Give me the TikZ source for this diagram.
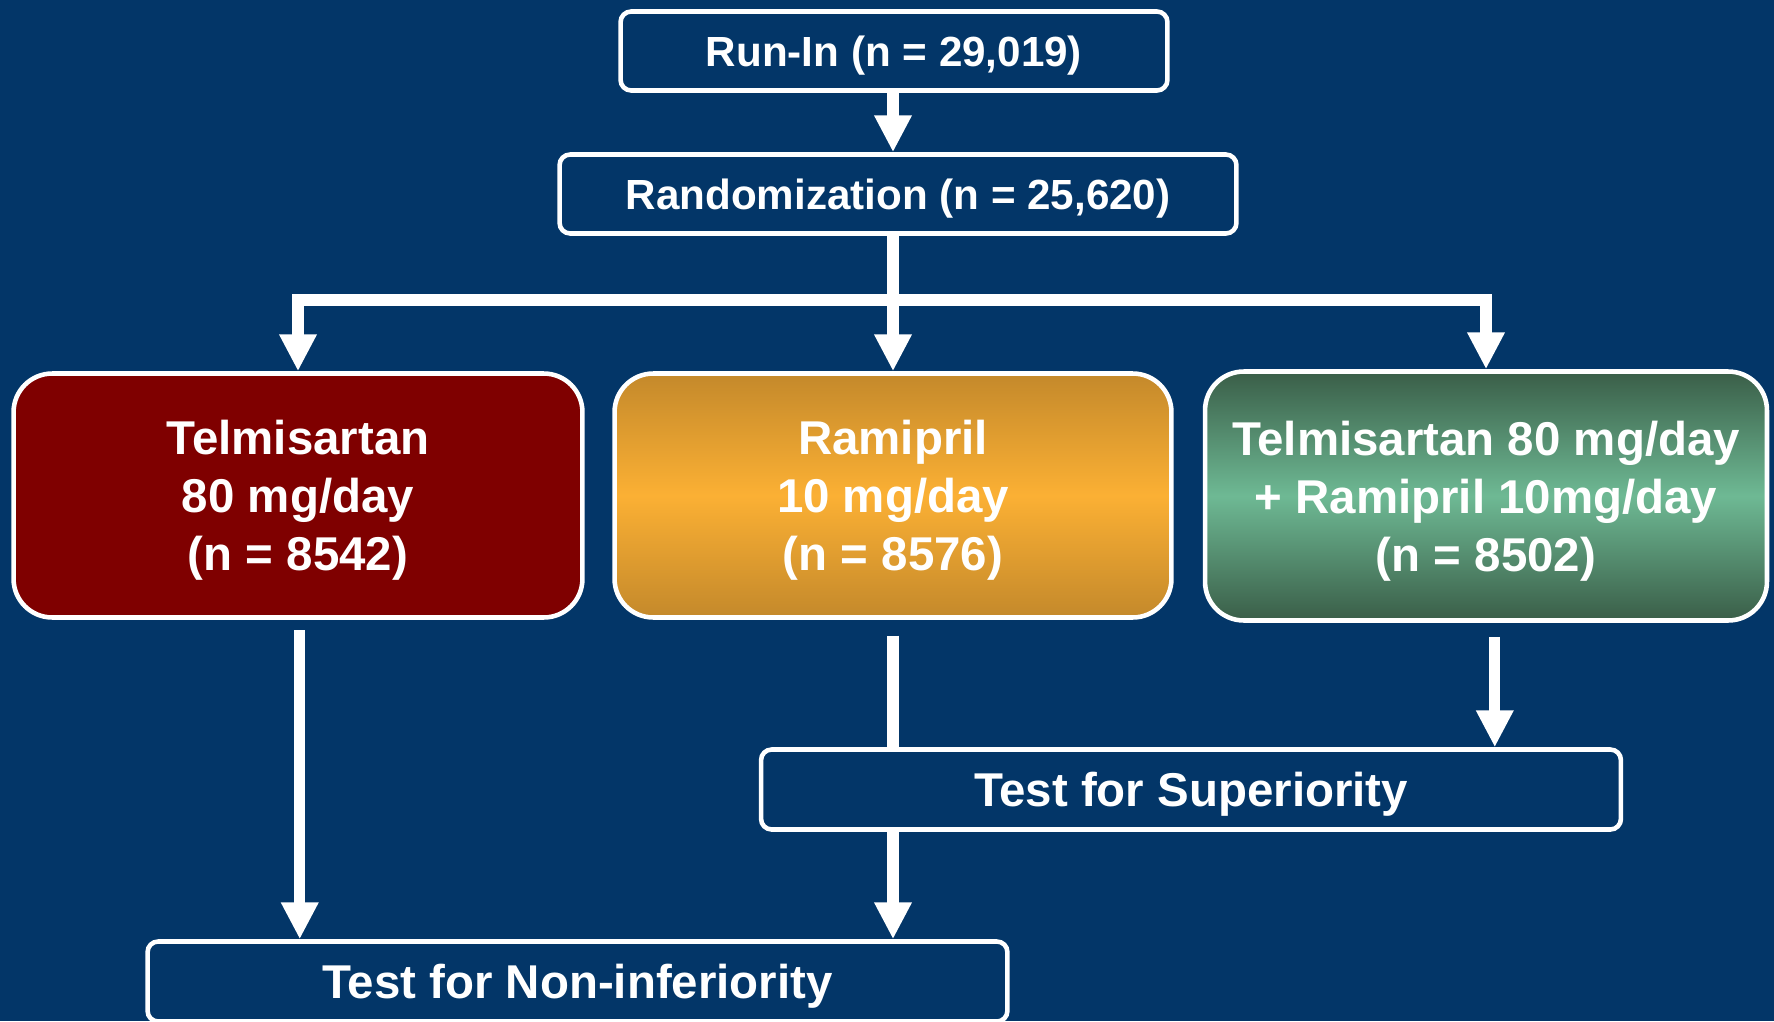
\documentclass[tikz,border=0pt]{standalone}
\usepackage{fontspec}
\setmainfont{Liberation Sans}
\usetikzlibrary{arrows.meta}

\definecolor{bgblue}{RGB}{3,54,104}
\definecolor{telmired}{RGB}{127,0,0}
\definecolor{ramidark}{RGB}{196,137,43}
\definecolor{ramilight}{RGB}{251,176,52}
\definecolor{combodark}{RGB}{58,94,72}
\definecolor{combolight}{RGB}{110,185,148}

\begin{document}
\begin{tikzpicture}[x=0.02cm, y=-0.02cm,
    box/.style={draw=white, line width=2.6pt, rounded corners=6pt, inner sep=0pt, text depth=0pt,
      text=white, font=\fontsize{24}{30}\selectfont\bfseries, align=center},
    armbox/.style={box, rounded corners=22pt, minimum width=11.2cm, minimum height=4.88cm,
      font=\fontsize{27}{33}\selectfont\bfseries},
    testbox/.style={box, minimum width=17.2cm, minimum height=1.6cm,
      font=\fontsize{27}{33}\selectfont\bfseries},
    flow/.style={draw=white, line width=6.3pt, -{Triangle[width=20pt,length=21pt]}},
    plain/.style={draw=white, line width=6.3pt}]
    % Background
    \fill[bgblue] (0,0) rectangle (1774,1021);
    \useasboundingbox (0,0) rectangle (1774,1021);

    % Boxes
    \node[box, minimum width=10.94cm, minimum height=1.58cm] (runin) at (894,51) {Run-In (n = 29,019)};
    \node[box, minimum width=13.54cm, minimum height=1.58cm] (rand) at (898,194) {Randomization (n = 25,620)};
    \node[armbox, fill=telmired, minimum width=11.38cm] (telmi) at (298,495.5)
      {Telmisartan\\80 mg/day\\(n = 8542)};
    \node[armbox, top color=ramidark, bottom color=ramidark, middle color=ramilight,
      minimum width=11.14cm] (rami) at (893,495.5) {Ramipril\\10 mg/day\\(n = 8576)};
    \node[armbox, top color=combodark, bottom color=combodark, middle color=combolight,
      minimum width=11.24cm, minimum height=4.98cm] (combo) at (1486,496)
      {Telmisartan 80 mg/day\\+ Ramipril 10mg/day\\(n = 8502)};
    \node[testbox] (sup) at (1191,789.5) {Test for Superiority};
    \node[testbox] (noninf) at (577.5,981.5) {Test for Non-inferiority};

    % Arrows
    \coordinate (split) at (893,300);
    \draw[flow] (split |- runin.south) -- (split |- rand.north);
    \draw[plain] (split |- rand.south) -- (split);
    \draw[flow] (split) -- (rami.north);
    \draw[flow] (split) -| (telmi.north);
    \draw[flow] (split) -| (combo.north);
    \draw[flow, shorten <=6pt] ([xshift=1pt]telmi.south) -- ([xshift=1pt]telmi.south |- noninf.north);
    \draw[plain, shorten <=9pt] (rami.south) -- (rami.south |- sup.north);
    \draw[flow, shorten <=8pt] ([xshift=5pt]combo.south) -- ([xshift=5pt]combo.south |- sup.north);
    \draw[flow] (rami.south |- sup.south) -- (rami.south |- noninf.north);
\end{tikzpicture}
\end{document}
